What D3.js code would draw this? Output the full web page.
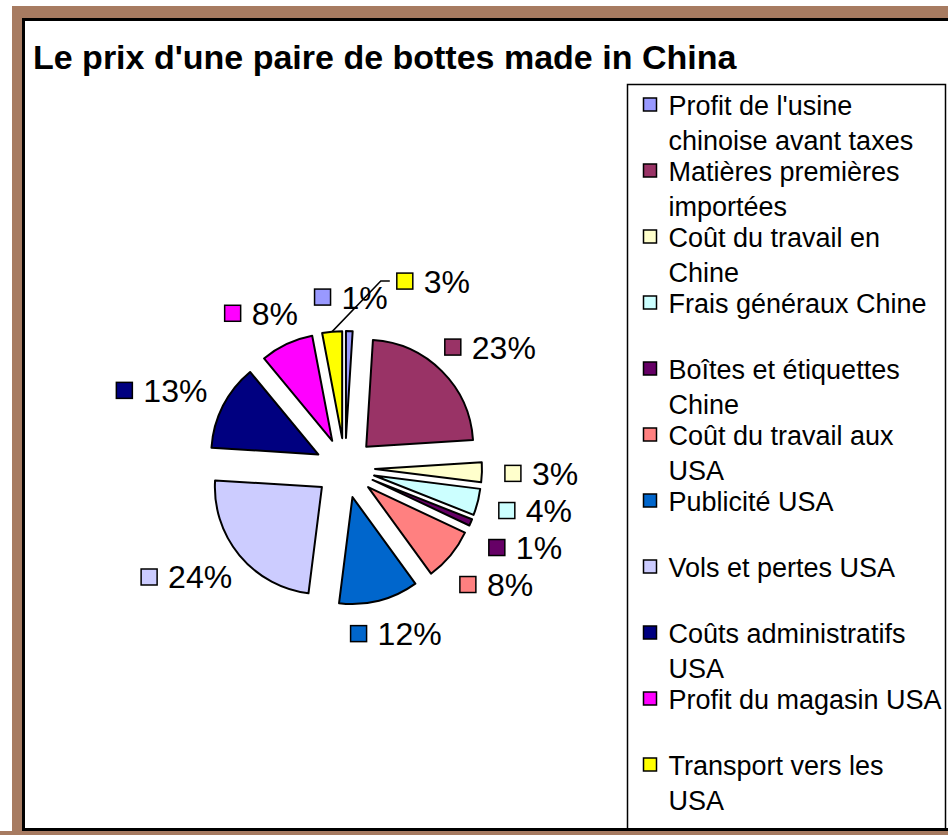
<!DOCTYPE html>
<html>
<head>
<meta charset="utf-8">
<script src="https://cdn.jsdelivr.net/npm/d3@7"></script>
<style>
  body { margin: 0; background: #fff; }
  text { font-family: "Liberation Sans", Arial, sans-serif; fill: #000; }
</style>
</head>
<body>
<div id="chart"></div>
<script>
var title = "Le prix d'une paire de bottes made in China";

// categories (line breaks as in the legend)
var categories = [
  "Profit de l'usine\nchinoise avant taxes",
  "Matières premières\nimportées",
  "Coût du travail en\nChine",
  "Frais généraux Chine",
  "Boîtes et étiquettes\nChine",
  "Coût du travail aux\nUSA",
  "Publicité USA",
  "Vols et pertes USA",
  "Coûts administratifs\nUSA",
  "Profit du magasin USA",
  "Transport vers les\nUSA"
];

// share of the price, in %
var values = [1, 23, 3, 4, 1, 8, 12, 24, 13, 8, 3];

var colors = ["#9999ff", "#993366", "#ffffcc", "#ccffff", "#660066", "#ff8080",
              "#0066cc", "#ccccff", "#000080", "#ff00ff", "#ffff00"];

function chart() {
  var w = 948;
  var h = 835;

  var svg = d3.select("#chart")
              .append("svg")
              .attr("width", w)
              .attr("height", h);

  // brown frame + chart area
  svg.append("rect")
     .attr("x", 12).attr("y", 6)
     .attr("width", w).attr("height", h)
     .attr("fill", "#a77b61");
  svg.append("rect")
     .attr("x", 23.5).attr("y", 19.5)
     .attr("width", 940).attr("height", 810)
     .attr("fill", "#fff");

  // title
  svg.append("text")
     .attr("x", 33).attr("y", 69)
     .style("font-size", "34px")
     .style("font-weight", "bold")
     .text(title);

  // pie
  var cx = 345, cy = 468;
  var radius = 107;
  var explode = 30;

  var pie = d3.pie().sort(null).value(function(d) { return d; });
  var arcs = pie(values);
  var arc = d3.arc().innerRadius(0).outerRadius(radius);

  function mid(d) { return (d.startAngle + d.endAngle) / 2; }

  var pieG = svg.append("g")
                .attr("transform", "translate(" + cx + "," + cy + ")");

  pieG.selectAll("path")
      .data(arcs)
      .enter()
      .append("path")
      .attr("transform", function(d) {
        var a = mid(d);
        return "translate(" + (explode * Math.sin(a)) + "," + (-explode * Math.cos(a)) + ")";
      })
      .attr("d", arc)
      .attr("fill", function(d, i) { return colors[i]; })
      .attr("stroke", "#000")
      .attr("stroke-width", 2)
      .attr("stroke-linejoin", "round");

  // data labels: key square + percent
  var labelR = 160;
  var boxH = 22;
  var labels = [];

  arcs.forEach(function(d, i) {
    var g = svg.append("g");
    g.append("rect")
     .attr("x", 0).attr("y", -8)
     .attr("width", 16).attr("height", 16)
     .attr("fill", colors[i])
     .attr("stroke", "#000")
     .attr("stroke-width", 1.5);
    var t = g.append("text")
             .attr("x", 27).attr("y", 11.5)
             .style("font-size", "32px")
             .text(values[i] + "%");
    var bw = 27 + t.node().getComputedTextLength();
    var a = mid(d);
    var mx = cx + labelR * Math.sin(a) + bw / 2 * Math.sin(a);
    var my = cy - labelR * Math.cos(a) - boxH / 2 * Math.cos(a);
    labels.push({ g: g, left: mx - bw / 2, cy: my, w: bw, a: a });
  });

  // crowded labels on the right side: push down so they don't collide
  var right = labels.filter(function(l) { return Math.sin(l.a) > 0.5; })
                    .sort(function(p, q) { return p.cy - q.cy; });
  for (var k = 1; k < right.length; k++) {
    if (right[k].cy < right[k - 1].cy + 37) right[k].cy = right[k - 1].cy + 37;
  }

  // last label (transport) overlaps the first one: move it aside with a leader line
  var first = labels[0];
  var last = labels[labels.length - 1];
  last.left = first.left + first.w + 9;
  last.cy = first.cy - 16;

  labels.forEach(function(l) {
    l.g.attr("transform", "translate(" + l.left + "," + l.cy + ")");
  });

  var la = mid(arcs[arcs.length - 1]);
  var sx = cx + (explode + radius) * Math.sin(la);
  var sy = cy - (explode + radius) * Math.cos(la);
  svg.append("polyline")
     .attr("points", [[sx, sy], [last.left - 16, last.cy], [last.left - 7, last.cy]].join(" "))
     .attr("fill", "none")
     .attr("stroke", "#000")
     .attr("stroke-width", 1.5);

  // legend
  var lx = 627.5, ly = 84.5;
  svg.append("rect")
     .attr("x", lx).attr("y", ly)
     .attr("width", 318).attr("height", 760)
     .attr("fill", "#fff")
     .attr("stroke", "#000")
     .attr("stroke-width", 1.5);

  var item = svg.selectAll(".legend")
                .data(categories)
                .enter()
                .append("g")
                .attr("class", "legend")
                .attr("transform", function(d, i) {
                  return "translate(" + lx + "," + (ly + 30.5 + i * 66) + ")";
                });

  item.append("rect")
      .attr("x", 16).attr("y", -17)
      .attr("width", 13).attr("height", 13)
      .attr("fill", function(d, i) { return colors[i]; })
      .attr("stroke", "#000")
      .attr("stroke-width", 1.5);

  item.append("text")
      .style("font-size", "27px")
      .selectAll("tspan")
      .data(function(d) { return d.split("\n"); })
      .enter()
      .append("tspan")
      .attr("x", 41)
      .attr("y", function(d, j) { return j * 35; })
      .text(function(d) { return d; });

  // chart border on top (legend runs under it)
  svg.append("rect")
     .attr("x", 23.5).attr("y", 19.5)
     .attr("width", 940).attr("height", 810)
     .attr("fill", "none")
     .attr("stroke", "#000")
     .attr("stroke-width", 3);
  svg.append("rect")
     .attr("x", 0).attr("y", 831)
     .attr("width", w).attr("height", 4)
     .attr("fill", "#a77b61");
}

window.onload = function() {
  chart();
};
</script>
</body>
</html>
